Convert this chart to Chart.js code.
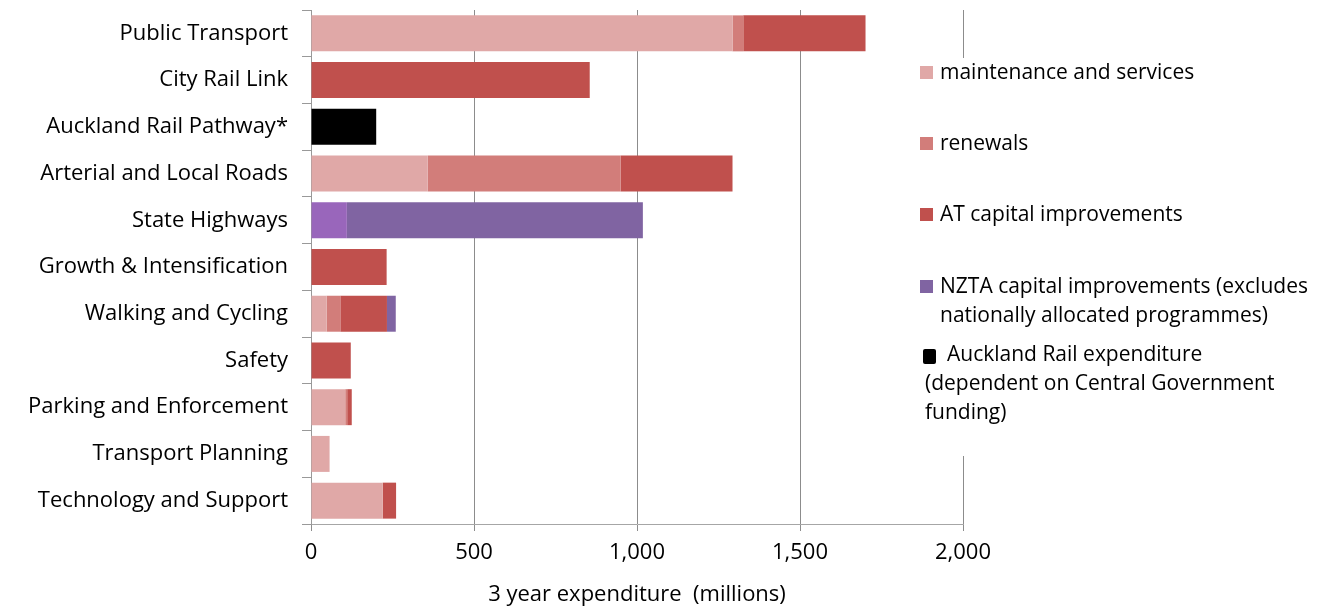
<!DOCTYPE html>
<html>
<head>
<meta charset="utf-8">
<script src="https://cdn.jsdelivr.net/npm/chart.js@4"></script>
<style>
  body { margin: 0; background: #fff; font-family: 'Open Sans', sans-serif; }
  #wrap { position: relative; width: 1319px; height: 608px; }
  #legend { position: absolute; left: 905px; top: 58px; width: 414px; height: 398px; background: #fff; color: #000; font-size: 21px; }
  .box { position: absolute; width: 13px; height: 13px; }
  .txt { position: absolute; white-space: pre; }
</style>
</head>
<body>
<div id="wrap">
  <canvas id="chart" width="1319" height="608"></canvas>
  <div id="legend"></div>
</div>
<script>
const categories = [
    'Public Transport', 'City Rail Link', 'Auckland Rail Pathway*', 'Arterial and Local Roads',
    'State Highways', 'Growth & Intensification', 'Walking and Cycling', 'Safety',
    'Parking and Enforcement', 'Transport Planning', 'Technology and Support'
];
const maintenance = [1293, null, null, 358, null, null, 48, null, 105, 57, 220];
const renewals = [33, null, null, 592, null, null, 42, null, 6, null, null];
const atCapital = [375, 855, null, 343, null, 232, 143, 122, 14, null, 41];
const nztaOther = [null, null, null, null, 110, null, null, null, null, null, null];
const nztaCapital = [null, null, null, null, 908, null, 27, null, null, null, null];
const railPathway = [null, null, 200, null, null, null, null, null, null, null, null];
const xTicks = [0, 500, 1000, 1500, 2000];

Chart.defaults.font.family = "'Open Sans', sans-serif";
Chart.defaults.font.size = 22;
Chart.defaults.color = '#000';

const datasets = [
    { label: 'maintenance and services', data: maintenance, backgroundColor: '#e0a8a7' },
    { label: 'renewals', data: renewals, backgroundColor: '#d27d7a' },
    { label: 'AT capital improvements', data: atCapital, backgroundColor: '#c0504d' },
    { label: 'NZTA other', data: nztaOther, backgroundColor: '#9966bb', noLegend: true },
    { label: 'NZTA capital improvements (excludes\nnationally allocated programmes)', data: nztaCapital, backgroundColor: '#8064a2' },
    { label: 'Auckland Rail expenditure\n(dependent on Central Government\nfunding)', data: railPathway, backgroundColor: '#000000' }
];
datasets.forEach(d => { d.categoryPercentage = 1; d.barPercentage = 0.77; });

const chart = new Chart(document.getElementById('chart'), {
    type: 'bar',
    data: { labels: categories, datasets: datasets },
    options: {
        indexAxis: 'y',
        responsive: false,
        animation: false,
        layout: { padding: { left: 0, top: 10, right: 356, bottom: 0 } },
        plugins: { legend: { display: false }, tooltip: { enabled: false } },
        scales: {
            x: {
                stacked: true,
                min: 0,
                max: 2000,
                afterBuildTicks: (scale) => { scale.ticks = xTicks.map(v => ({ value: v })); },
                ticks: {
                    padding: 9,
                    callback: (v) => v.toLocaleString('en-US')
                },
                grid: { color: '#8c8c8c', tickLength: 7 },
                border: { color: '#a6a6a6' },
                title: {
                    display: true,
                    text: '3 year expenditure  (millions)',
                    padding: { top: 2, bottom: 0 }
                },
                afterFit: (scale) => { scale.height = 84; }
            },
            y: {
                stacked: true,
                ticks: { padding: 14 },
                grid: { drawOnChartArea: false, color: '#999', tickLength: 9 },
                border: { color: '#999' },
                afterFit: (scale) => {
                    scale.width = 311;
                    scale.paddingTop = 0;
                    scale.paddingBottom = 0;
                }
            }
        }
    }
});

// legend drawn beside the chart, from the datasets
const legendTops = [58, 129, 200, 272, 340];
const legendEl = document.getElementById('legend');
datasets.filter(d => !d.noLegend).forEach((d, i) => {
    const top = legendTops[i] - 58;
    const last = d.backgroundColor === '#000000';
    const box = document.createElement('div');
    box.className = 'box';
    box.style.background = d.backgroundColor;
    if (last) {
        box.style.left = '18px'; box.style.top = (top + 9) + 'px';
        box.style.height = '15px'; box.style.borderRadius = '2px';
    } else {
        box.style.left = '15px'; box.style.top = (top + 8) + 'px';
    }
    legendEl.appendChild(box);
    const lines = d.label.split('\n');
    lines.forEach((line, j) => {
        const t = document.createElement('div');
        t.className = 'txt';
        t.textContent = line;
        t.style.top = (top + j * 29 - 1) + 'px';
        t.style.lineHeight = '29px';
        t.style.left = last ? (j === 0 ? '42px' : '20px') : '35px';
        legendEl.appendChild(t);
    });
});
</script>
</body>
</html>
